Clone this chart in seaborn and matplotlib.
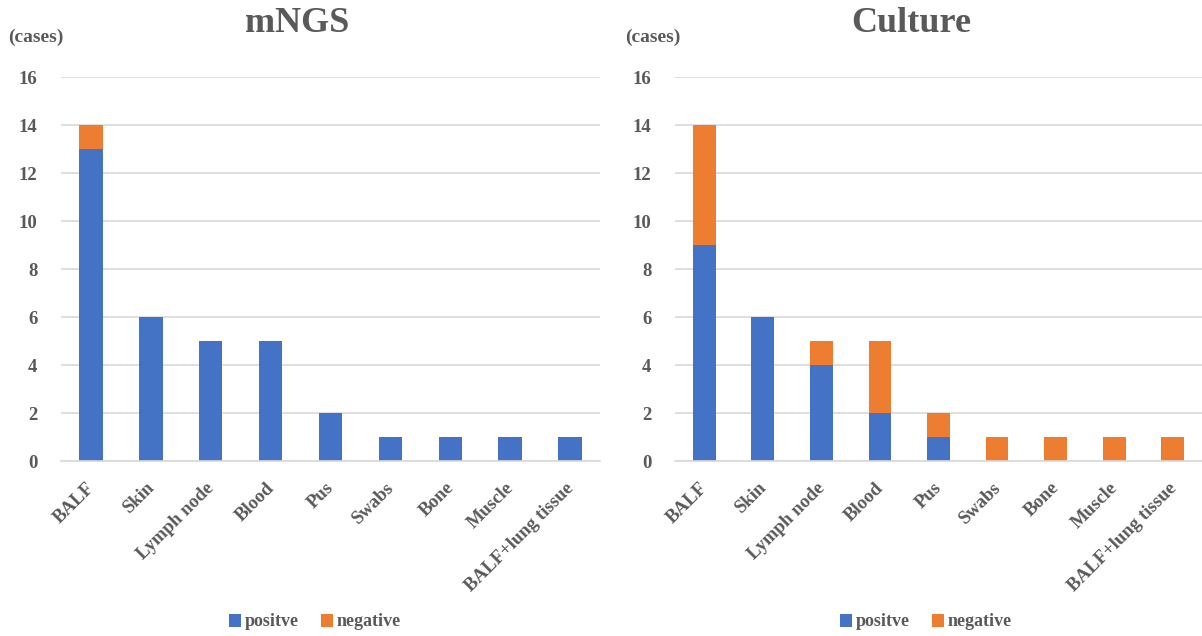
import matplotlib
matplotlib.use("Agg")
import matplotlib.pyplot as plt
import matplotlib.transforms as mtransforms
import seaborn as sns
import pandas as pd
from matplotlib.patches import Patch

categories = ["BALF", "Skin", "Lymph node", "Blood", "Pus", "Swabs", "Bone", "Muscle", "BALF+lung tissue"]
tick_labels = ["BALF", "Skin", "Lymph node", "Blood", "Pus", "Swabs", "Bone", "Muscle", "BALF+lung tissue"]
mngs_positive = [13, 6, 5, 5, 2, 1, 1, 1, 1]
mngs_negative = [1, 0, 0, 0, 0, 0, 0, 0, 0]
culture_positive = [9, 6, 4, 2, 1, 0, 0, 0, 0]
culture_negative = [5, 0, 1, 3, 1, 1, 1, 1, 1]
titles = ["mNGS", "Culture"]
legend_labels = ["positve", "negative"]

BLUE = "#4472C4"
ORANGE = "#ED7D31"
TXT = "#595959"
GRID = "#D9D9D9"

sns.set_theme(style="white")
plt.rcParams["font.family"] = ["Liberation Serif", "DejaVu Serif"]
plt.rcParams["font.weight"] = "bold"

fig = plt.figure(figsize=(12.02, 6.36), dpi=100)
axes_rects = [
    [61 / 1202, 1 - 461 / 636, 539 / 1202, 384 / 636],
    [675 / 1202, 1 - 461 / 636, 527 / 1202, 384 / 636],
]
title_x = [297 / 1202, 911 / 1202]
cases_x = [8 / 1202, 625 / 1202]
legend_x = [315 / 1202, 926 / 1202]

datasets = [(mngs_positive, mngs_negative), (culture_positive, culture_negative)]
offset = mtransforms.ScaledTranslation(-0.05, -0.10, fig.dpi_scale_trans)

for i, (pos, neg) in enumerate(datasets):
    ax = fig.add_axes(axes_rects[i])
    df = pd.DataFrame({
        "cat": categories,
        "pos": pos,
        "total": [p + n for p, n in zip(pos, neg)],
    })
    sns.barplot(data=df, x="cat", y="total", color=ORANGE, width=0.39,
                saturation=1, ax=ax, order=categories, linewidth=0)
    sns.barplot(data=df, x="cat", y="pos", color=BLUE, width=0.39,
                saturation=1, ax=ax, order=categories, linewidth=0)
    ax.set_ylim(0, 16)
    ax.set_xlim(-0.5, 8.5)
    ax.set_yticks(range(0, 17, 2))
    ax.yaxis.grid(True, color=GRID, linewidth=1.2)
    ax.set_axisbelow(True)
    for s in ["top", "right", "left"]:
        ax.spines[s].set_visible(False)
    ax.spines["bottom"].set_color(GRID)
    ax.spines["bottom"].set_linewidth(1.2)
    ax.set_xlabel("")
    ax.set_ylabel("")
    ax.tick_params(axis="both", length=0, colors=TXT)
    ax.tick_params(axis="y", pad=17)
    ax.tick_params(axis="x", pad=6)
    ax.set_xticks(range(len(categories)))
    ax.set_xticklabels(tick_labels, rotation=45, ha="right", rotation_mode="anchor",
                       fontsize=13.5, fontweight="bold", color=TXT)
    for lab in ax.get_xticklabels():
        lab.set_transform(lab.get_transform() + offset)
    for lab in ax.get_yticklabels():
        lab.set_fontsize(13.5)
        lab.set_fontweight("bold")
        lab.set_color(TXT)

    fig.text(title_x[i], 1 - 24 / 636, titles[i], ha="center", va="center",
             fontsize=26, fontweight="bold", color=TXT)
    fig.text(cases_x[i], 1 - 37 / 636, "(cases)", ha="left", va="center",
             fontsize=14, fontweight="bold", color=TXT)
    handles = [Patch(facecolor=BLUE, edgecolor="none"), Patch(facecolor=ORANGE, edgecolor="none")]
    fig.legend(handles, legend_labels, loc="center", bbox_to_anchor=(legend_x[i], 1 - 622 / 636),
               ncol=2, frameon=False, handlelength=0.7, handleheight=0.7, handletextpad=0.2,
               columnspacing=1.2, prop={"size": 13, "weight": "bold"}, labelcolor=TXT)

fig.savefig("out.png", dpi=100)
